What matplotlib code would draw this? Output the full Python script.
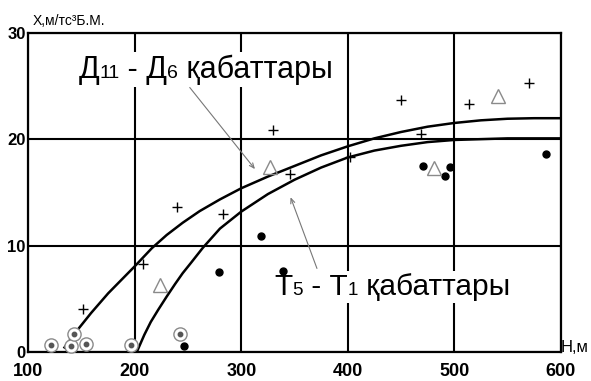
import matplotlib
matplotlib.use('Agg')
import matplotlib.pyplot as plt
from matplotlib.offsetbox import TextArea, HPacker, AnnotationBbox

plt.rcParams['font.family'] = ['Liberation Sans', 'DejaVu Sans']

# curves
upper_x = [134, 145, 159, 175, 200, 216, 230, 245, 261, 280, 300, 325, 350, 375,
           400, 425, 450, 475, 500, 525, 550, 575, 600]
upper_y = [0.4, 1.9, 3.65, 5.5, 8.05, 9.75, 11.0, 12.15, 13.25, 14.35, 15.4, 16.5, 17.5, 18.5,
           19.35, 20.1, 20.7, 21.2, 21.55, 21.8, 21.95, 22.0, 22.0]
lower_x = [202, 209, 215, 222, 230, 238, 245, 253, 264, 280, 300, 325, 350, 375,
           400, 425, 450, 475, 500, 550, 600]
lower_y = [0.0, 1.6, 2.8, 3.95, 5.2, 6.4, 7.4, 8.4, 9.8, 11.6, 13.2, 14.85, 16.2, 17.35,
           18.3, 18.95, 19.4, 19.75, 19.95, 20.1, 20.1]

# measured points
plus_x = [151, 208, 240, 283, 330, 346, 402, 450, 469, 514, 570]
plus_y = [4.0, 8.3, 13.6, 13.0, 20.9, 16.7, 18.3, 23.7, 20.5, 23.3, 25.3]
dot_x = [246, 279, 319, 339, 471, 491, 496, 586]
dot_y = [0.5, 7.5, 10.9, 7.6, 17.5, 16.6, 17.4, 18.6]
tri_x = [224, 327, 481, 541]
tri_y = [6.3, 17.4, 17.3, 24.1]
circ_x = [121, 140, 143, 154, 196, 242]
circ_y = [0.6, 0.5, 1.7, 0.7, 0.6, 1.7]

x_ticks = [100, 200, 300, 400, 500, 600]
y_ticks = [0, 10, 20, 30]

fig = plt.figure(figsize=(5.91, 3.81), dpi=100)
ax = fig.add_axes([0.0479, 0.0769, 0.9008, 0.8357])

ax.set_xlim(100, 600)
ax.set_ylim(0, 30)
ax.set_xticks(x_ticks)
ax.set_yticks(y_ticks)
ax.tick_params(length=0)
ax.tick_params(axis='x', pad=8, labelsize=13)
ax.tick_params(axis='y', pad=2, labelsize=12)
for lab in ax.get_xticklabels() + ax.get_yticklabels():
    lab.set_fontweight('bold')
for s in ax.spines.values():
    s.set_linewidth(1.6)
ax.set_axisbelow(True)
ax.grid(True, color='black', linewidth=1.5)

ax.plot(upper_x, upper_y, color='black', lw=1.8, zorder=3)
ax.plot(lower_x, lower_y, color='black', lw=1.8, zorder=3)

ax.plot(plus_x, plus_y, '+', color='black', ms=7, mew=1.0, zorder=6, clip_on=False)
ax.plot(dot_x, dot_y, 'o', color='black', ms=5, zorder=6, clip_on=False)
ax.plot(tri_x, tri_y, '^', mfc='none', mec='#8a8a8a', ms=10, mew=1.0, zorder=6)
ax.plot(circ_x, circ_y, 'o', mfc='white', mec='#8a8a8a', ms=9.5, mew=1.0, zorder=6, clip_on=False)
ax.plot(circ_x, circ_y, 'o', color='#555555', ms=3.2, zorder=7, clip_on=False)


def label(parts, xy):
    boxes = [TextArea(s, textprops=dict(fontsize=fs)) for s, fs in parts]
    pack = HPacker(children=boxes, align='baseline', pad=0, sep=0)
    ab = AnnotationBbox(pack, xy, xycoords='data', box_alignment=(0, 0.5),
                        frameon=True, pad=0.15,
                        bboxprops=dict(facecolor='white', edgecolor='none'))
    ab.set_zorder(4)
    ax.add_artist(ab)


label([('Д', 22), ('11', 14), (' - Д', 22), ('6', 14), (' қабаттары', 22)], (147, 26.6))
label([('Т', 21.5), ('5', 13.5), (' - Т', 21.5), ('1', 13.5), (' қабаттары', 21.5)], (331, 6.1))

arrow = dict(arrowstyle='->, head_length=0.35, head_width=0.15', color='#777777', lw=0.8)
ax.annotate('', xy=(314.5, 17.0), xytext=(250, 25.1), arrowprops=arrow, zorder=5)
ax.annotate('', xy=(345.4, 14.8), xytext=(372, 7.6), arrowprops=arrow, zorder=5)

ax.text(0.009, 1.025, 'Х,м/тс³Б.М.', transform=ax.transAxes, fontsize=10, va='baseline')
ax.text(1.0, 0.0, 'Н,м', transform=ax.transAxes, fontsize=12, va='baseline', ha='left')

fig.savefig('out.png', dpi=100)
